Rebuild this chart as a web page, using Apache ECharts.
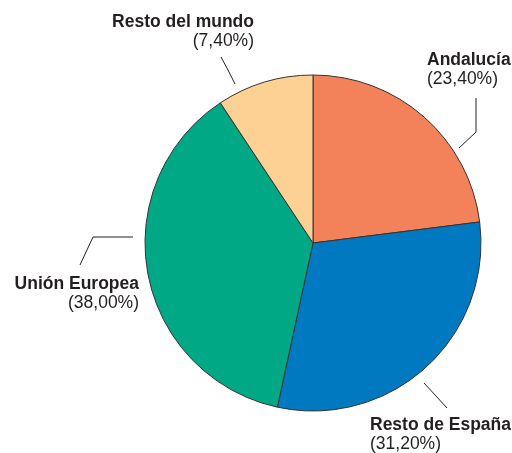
<!DOCTYPE html>
<html>
<head>
<meta charset="utf-8">
<script src="https://cdn.jsdelivr.net/npm/echarts@6/dist/echarts.min.js"></script>
<style>
  html, body { margin: 0; background: #fff; }
  #chart { width: 512px; height: 453px; }
</style>
</head>
<body>
<div id="chart"></div>
<script>
// data
const categories = ['Andalucía', 'Resto de España', 'Unión Europea', 'Resto del mundo'];
// percentages printed in the labels
const labelPercents = [23.4, 31.2, 38.0, 7.4];
// slice sizes as actually drawn in the picture (measured angles)
const sliceSizes = [23.0, 30.4, 37.3, 9.3];
const colors = ['#F3825A', '#0079C1', '#00A886', '#FDD193'];

// where each label sits and its leader line (per slice, same order)
const labelSpots = [
  { x: 427, y: 51, align: 'left', line: [[476, 98], [476, 132], [459, 148]] },
  { x: 370, y: 416, align: 'left', line: [[424, 383], [436, 396], [447, 408]] },
  { x: 139, y: 275, align: 'right', line: [[133, 237], [93, 237], [80, 265]] },
  { x: 254, y: 13, align: 'right', line: [[235, 84], [228, 70], [221, 57]] }
];

const fmt = v => '(' + v.toFixed(2).replace('.', ',') + '%)';

let chart = echarts.init(document.getElementById('chart'));
chart.setOption({
  animation: false,
  series: [
    {
      type: 'pie',
      center: [313, 243],
      radius: 168,
      startAngle: 90,
      clockwise: true,
      avoidLabelOverlap: false,
      data: categories.map((c, i) => ({
        name: c,
        value: sliceSizes[i],
        pct: labelPercents[i],
        itemStyle: { color: colors[i] }
      })),
      itemStyle: { borderColor: '#333333', borderWidth: 1 },
      label: {
        show: true,
        position: 'outside',
        formatter: p => '{b|' + p.name + '}\n{p|' + fmt(p.data.pct) + '}',
        rich: {
          b: { fontFamily: 'Liberation Sans', fontWeight: 'bold', fontSize: 17.5, lineHeight: 19, color: '#231F20' },
          p: { fontFamily: 'Liberation Sans', fontSize: 17.5, lineHeight: 19, color: '#231F20' }
        }
      },
      labelLine: {
        show: true,
        smooth: false,
        lineStyle: { color: '#231F20', width: 1 }
      },
      labelLayout: params => {
        const s = labelSpots[params.dataIndex];
        return {
          x: s.x,
          y: s.y,
          align: s.align,
          verticalAlign: 'top',
          labelLinePoints: s.line
        };
      },
      emphasis: { disabled: true }
    }
  ]
});
</script>
</body>
</html>
